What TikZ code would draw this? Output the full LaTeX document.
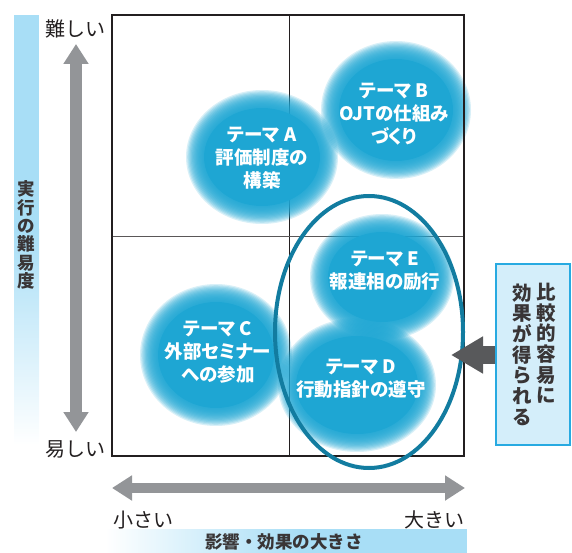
\documentclass[tikz,border=0pt]{standalone}
\usepackage{fontspec}
\setmainfont{Noto Sans CJK JP}
\newfontfamily\blobfont[RawFeature=+palt]{Noto Sans CJK JP}
\usetikzlibrary{shapes.geometric,arrows.meta}
\definecolor{blobcol}{RGB}{30,166,211}
\definecolor{ringcol}{RGB}{18,124,160}
\definecolor{bandcol}{RGB}{168,222,246}
\definecolor{boxfill}{RGB}{212,238,250}
\definecolor{boxline}{RGB}{40,170,225}
\definecolor{axisgray}{RGB}{147,149,152}
\definecolor{darkgray}{RGB}{88,89,91}
\definecolor{inkcol}{RGB}{35,31,32}
% soft-edged blob: stacked translucent ellipses
\newcommand\blobshape[4]{%
  \foreach \k in {0,...,15}{%
    \fill[blobcol, opacity=0.17] (#1,#2) ellipse [x radius={#3pt+9pt-\k*1.2pt}, y radius={#4pt+9pt-\k*1.2pt}];
  }%
  \fill[blobcol] (#1,#2) ellipse [x radius={#3pt-9pt}, y radius={#4pt-9pt}];
}
\tikzset{
  blobtext/.style={text=white, align=center, inner sep=0pt, font=\blobfont\bfseries\fontsize{18.5}{23}\selectfont},
  axislabel/.style={text=inkcol, inner sep=0pt, font=\fontsize{20}{22}\selectfont},
  vtext/.style={text=inkcol!90, align=center, inner sep=0pt, font=\bfseries\fontsize{17.5}{18.3}\selectfont},
  boxtext/.style={text=inkcol!90, align=center, inner sep=0pt, font=\bfseries\fontsize{19.5}{20.7}\selectfont},
  grayarrow/.style={draw=axisgray, {Triangle[width=24pt,length=20pt]}-{Triangle[width=24pt,length=20pt]}},
}
\begin{document}
\begin{tikzpicture}[x=1pt,y=-1pt]
\useasboundingbox (0,0) rectangle (572,553);
% left band
\fill[bandcol] (14,15) rectangle (39,230);
\shade[top color=bandcol, bottom color=white] (14,229.5) rectangle (39,445);
\node[vtext] (ylabel) at (26,235) {実\\行\\の\\難\\易\\度};
% bottom band
\shade[left color=white, right color=bandcol] (105,529) rectangle (300,553);
\fill[bandcol] (299.5,529) rectangle (467,553);
\node[text=inkcol!90, inner sep=0pt, font=\bfseries\fontsize{17.5}{20}\selectfont] (xlabel) at (284,542) {影響・効果の大きさ};
% axis labels
\node[axislabel] (hard) at (75,29) {難しい};
\node[axislabel] (easy) at (75,449) {易しい};
\node[axislabel] (small) at (143,520) {小さい};
\node[axislabel] (large) at (434,520) {大きい};
% axis arrows
\coordinate (vtop) at (76,44);
\coordinate (vbot) at (76,432);
\draw[grayarrow, line width=12pt] (vtop) -- (vbot);
\coordinate (hleft) at (112,488);
\coordinate (hright) at (465,488);
\draw[grayarrow, line width=10pt] (hleft) -- (hright);
% grid
\node[minimum width=352pt, minimum height=441pt, inner sep=0pt, outer sep=0pt] (grid) at (288,235.5) {};
\draw[line width=1pt, inkcol] (289,15) -- (289,456);
\draw[line width=1pt, inkcol!75] (112,236) -- (464,236);
% blobs
\blobshape{262}{157}{67}{58}
\blobshape{396}{110}{66}{60}
\blobshape{382}{277}{63}{54}
\blobshape{357}{385}{70}{58}
\blobshape{216}{355}{67}{62}
\draw[line width=2.5pt, inkcol] (grid.north west) rectangle (grid.south east);
% blob texts
\node[blobtext] (tA) at (262,158) {テーマ A\\評価制度の\\構築};
\node[blobtext] (tB) at (394,114) {テーマ B\\OJTの仕組み\\づくり};
\node[blobtext] (tE) at (385,271) {テーマ E\\報連相の励行};
\node[blobtext] (tD) at (361,379) {テーマ D\\行動指針の遵守};
\node[blobtext] (tC) at (218,352) {テーマ C\\外部セミナー\\への参加};
% focus ring
\node[draw=ringcol, line width=4pt, ellipse, minimum width=188pt, minimum height=272pt, inner sep=0pt] (focus) at (369,332) {};
% right box
\node[draw=boxline, fill=boxfill, line width=2pt, minimum width=74pt, minimum height=181pt, inner sep=0pt] (box) at (533,354.5) {};
\node[boxtext] (col1) at (546,343.5) {比\\較\\的\\容\\易\\に};
\node[boxtext] (col2) at (522,354.5) {効\\果\\が\\得\\ら\\れ\\る};
\coordinate (tip) at (451,355);
\draw[darkgray, line width=18pt, -{Triangle[width=35pt,length=32pt]}] (box.west |- tip) -- (tip);
\end{tikzpicture}
\end{document}
